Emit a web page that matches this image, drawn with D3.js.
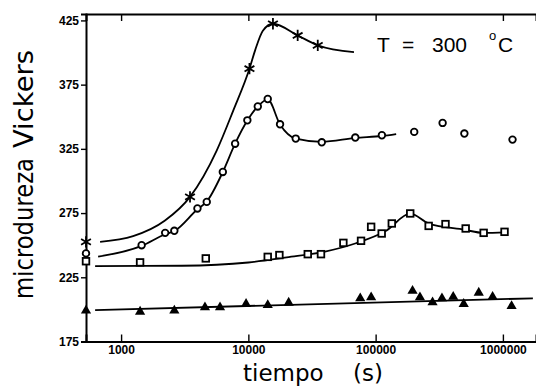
<!DOCTYPE html>
<html>
<head>
<meta charset="utf-8">
<script src="https://cdn.jsdelivr.net/npm/d3@7"></script>
<style>
  body { margin: 0; background: #fff; }
  svg { display: block; font-family: "Liberation Sans", Arial, sans-serif; }
</style>
</head>
<body>
<svg id="chart" width="536" height="387"></svg>
<script>
// measured points (time in s, Vickers microhardness)
const starT = [530, 3480, 10200, 15600, 24400, 35100];
const starV = [252.6, 287.6, 387.4, 422.4, 413.3, 405.6];
const starCurveT = [684, 1243, 2200, 3480, 5650, 7620, 10200, 11300, 13000, 15600, 24400, 35100, 67600];
const starCurveV = [252.6, 257, 269, 287.6, 323.9, 355, 387.4, 401.7, 417, 422.4, 413.3, 405.6, 400.3];

const circleT = [530, 1450, 2220, 2620, 3980, 4710, 6300, 7870, 9820, 11860, 14200, 17740, 23560, 37740, 69200, 112000, 201000, 336000, 498000, 1190000];
const circleV = [243.6, 250, 259.6, 261.2, 278.6, 283.7, 307, 329, 347.2, 358, 363.8, 344.1, 333, 330.1, 333.8, 335.6, 338.2, 345.2, 336.9, 332.2];
const circleCurveT = [660, 1450, 2220, 2620, 3980, 4710, 6300, 7870, 9820, 11860, 14200, 17740, 23560, 37740, 69200, 112000, 145000];
const circleCurveV = [241, 249.5, 258.5, 261, 278, 284, 307, 329, 347, 358, 363.5, 344, 333, 330.5, 333.5, 335, 336.5];

const squareT = [530, 1410, 4630, 14200, 17530, 29300, 37200, 55800, 76800, 92200, 111600, 134000, 187000, 261000, 354000, 510000, 706000, 1030000];
const squareV = [237.5, 236.6, 239.7, 240.9, 242.3, 243, 243, 251.8, 253.4, 264.3, 259.1, 266.9, 274.7, 265, 266.4, 263, 259.6, 260.4];
const squareCurveT = [625, 3000, 10000, 20000, 40000, 70000, 120000, 187000, 260000, 500000, 700000, 1050000];
const squareCurveV = [233.7, 234, 236.5, 240.5, 245, 251.5, 261, 274.5, 267, 262, 259.6, 260];

const triT = [530, 1410, 2620, 4560, 5990, 9590, 14200, 20740, 75700, 92200, 195000, 223000, 280000, 332000, 407000, 492000, 646000, 830000, 1170000];
const triV = [199, 198.2, 199, 201.6, 201.6, 204.2, 203.4, 205.2, 208.6, 209.4, 214.5, 209.4, 205.5, 208.6, 209.8, 204.2, 213, 209.8, 202.6];
const triCurveT = [625, 1720000];
const triCurveV = [199.5, 208.6];

const xMajor = [1000, 10000, 100000, 1000000];
const yTicks = [175, 225, 275, 325, 375, 425];

const svg = d3.select("#chart");
const mLeft = 86, mRight = 536, mTop = 14, mBottom = 341.5;

const x = d3.scaleLog().domain([530, 1.82e6]).range([mLeft, mRight]);
const y = d3.scaleLinear().domain([175, 430]).range([mBottom, mTop]);

// minor log ticks inside the domain
let xMinor = [];
for (let p = 2; p <= 6; p++) {
  for (let k = 2; k <= 9; k++) {
    const v = k * Math.pow(10, p);
    if (v >= 530 && v <= 1.82e6) xMinor.push(v);
  }
}

function zip(ts, vs) { return ts.map((t, i) => ({t: t, v: vs[i]})); }

// axes
const gBottom = svg.append("g").attr("transform", "translate(0," + mBottom + ")");
gBottom.call(d3.axisBottom(x).tickValues(xMinor).tickSize(-4).tickFormat(""));
gBottom.call(d3.axisBottom(x).tickValues(xMajor).tickSize(-7).tickPadding(4).tickFormat(d3.format("d")));

const gTop = svg.append("g").attr("transform", "translate(0," + mTop + ")");
gTop.call(d3.axisTop(x).tickValues(xMinor).tickSize(-4).tickFormat(""));
gTop.call(d3.axisTop(x).tickValues(xMajor).tickSize(-7).tickFormat(""));

const gLeft = svg.append("g").attr("transform", "translate(" + mLeft + ",0)");
gLeft.call(d3.axisLeft(y).tickValues(yTicks).tickSize(5).tickPadding(2).tickFormat(d3.format("d")));

svg.selectAll(".domain").attr("stroke", "#000").attr("stroke-width", 2);
svg.selectAll(".tick line").attr("stroke", "#000").attr("stroke-width", 1.4);
svg.selectAll(".tick text")
  .attr("fill", "#000")
  .style("font-family", "'Liberation Sans', Arial, sans-serif")
  .style("font-weight", "bold")
  .style("font-size", "12px");

// fitted curves
const line = d3.line()
  .x(d => x(d.t))
  .y(d => y(d.v))
  .curve(d3.curveMonotoneX);

[[starCurveT, starCurveV], [circleCurveT, circleCurveV], [squareCurveT, squareCurveV], [triCurveT, triCurveV]]
  .forEach(c => {
    svg.append("path")
      .datum(zip(c[0], c[1]))
      .attr("d", line)
      .attr("fill", "none")
      .attr("stroke", "#000")
      .attr("stroke-width", 1.8);
  });

// markers
svg.selectAll(".star")
  .data(zip(starT, starV))
  .enter().append("path")
  .attr("class", "star")
  .attr("transform", d => "translate(" + x(d.t) + "," + y(d.v) + ")")
  .attr("d", d3.symbol(d3.symbolAsterisk, 90))
  .attr("fill", "none")
  .attr("stroke", "#000")
  .attr("stroke-width", 1.8);

svg.selectAll(".circ")
  .data(zip(circleT, circleV))
  .enter().append("circle")
  .attr("class", "circ")
  .attr("cx", d => x(d.t))
  .attr("cy", d => y(d.v))
  .attr("r", 3.3)
  .attr("fill", "#fff")
  .attr("stroke", "#000")
  .attr("stroke-width", 1.8);

svg.selectAll(".sq")
  .data(zip(squareT, squareV))
  .enter().append("rect")
  .attr("class", "sq")
  .attr("x", d => x(d.t) - 3.3)
  .attr("y", d => y(d.v) - 3.3)
  .attr("width", 6.6)
  .attr("height", 6.6)
  .attr("fill", "#fff")
  .attr("stroke", "#000")
  .attr("stroke-width", 1.8);

svg.selectAll(".tri")
  .data(zip(triT, triV))
  .enter().append("path")
  .attr("class", "tri")
  .attr("transform", d => "translate(" + x(d.t) + "," + y(d.v) + ")")
  .attr("d", d3.symbol(d3.symbolTriangle, 45))
  .attr("fill", "#000");

// axis titles
const titleFont = "'DejaVu Sans', sans-serif";
const yTitle = svg.append("g").attr("transform", "translate(33,0) rotate(-90)")
  .style("font-family", titleFont)
  .style("font-size", "26px");
yTitle.append("text")
  .attr("x", -299)
  .attr("textLength", 141)
  .attr("lengthAdjust", "spacingAndGlyphs")
  .text("microdureza");
yTitle.append("text")
  .attr("x", -148)
  .attr("textLength", 98)
  .attr("lengthAdjust", "spacingAndGlyphs")
  .text("Vickers");

const xTitle = svg.append("g")
  .style("font-family", titleFont)
  .style("font-size", "23px");
xTitle.append("text").attr("x", 243).attr("y", 381).text("tiempo");
xTitle.append("text").attr("x", 353).attr("y", 381).text("(s)");

// temperature label
const lab = svg.append("text").attr("y", 52).style("font-size", "21px");
lab.append("tspan").attr("x", 377).text("T");
lab.append("tspan").attr("x", 402).text("=");
lab.append("tspan").attr("x", 432).text("300");
lab.append("tspan").attr("x", 489).attr("y", 40).style("font-size", "13px").text("o");
lab.append("tspan").attr("x", 498).attr("y", 52).text("C");
</script>
</body>
</html>
